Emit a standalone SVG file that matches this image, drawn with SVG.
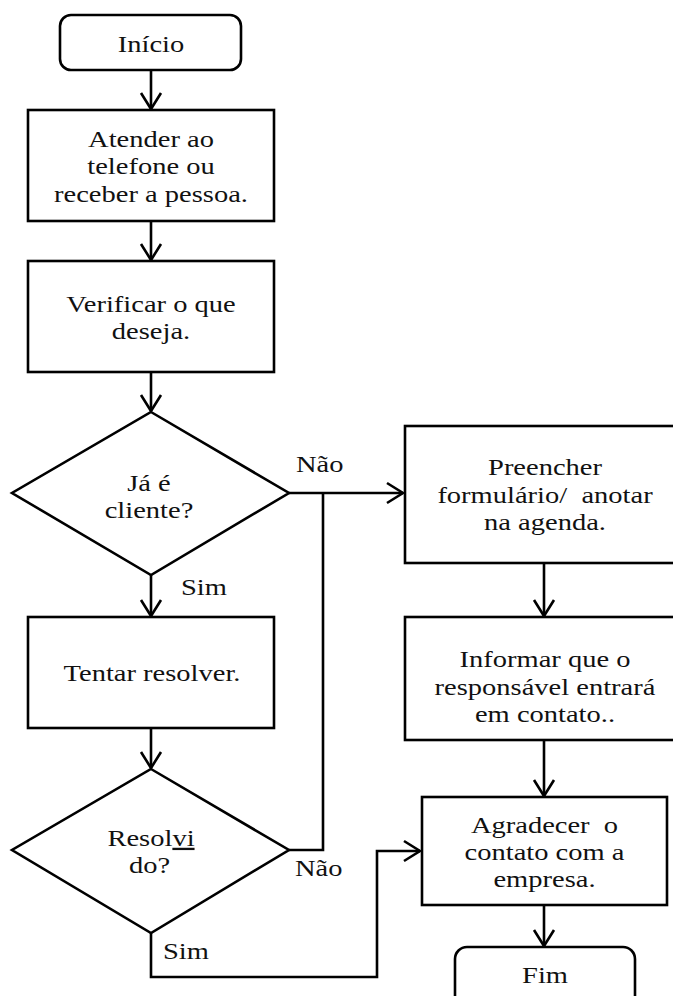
<svg xmlns="http://www.w3.org/2000/svg" width="673" height="996" viewBox="0 0 673 996">
<defs>
<style>
.shape{fill:#fff;stroke:#000;stroke-width:2.6}
.conn{fill:none;stroke:#000;stroke-width:2.6}
text{font-family:"Liberation Serif","Times New Roman",serif;font-size:23px;fill:#111}
.c{text-anchor:middle}
.pre{white-space:pre}
</style>
<marker id="arr" markerUnits="userSpaceOnUse" markerWidth="24" markerHeight="24" viewBox="-20 -12 24 24" refX="0" refY="0" orient="auto">
<path d="M-16,-10 L0,0 L-16,10" fill="none" stroke="#000" stroke-width="2.6"/>
</marker>
</defs>
<rect width="673" height="996" fill="#fff"/>

<g id="connectors">
<line class="conn" x1="151" y1="70" x2="151" y2="109" marker-end="url(#arr)"/>
<line class="conn" x1="151" y1="221" x2="151" y2="260" marker-end="url(#arr)"/>
<line class="conn" x1="151" y1="372" x2="151" y2="411" marker-end="url(#arr)"/>
<line class="conn" x1="151" y1="575" x2="151" y2="616" marker-end="url(#arr)"/>
<line class="conn" x1="151" y1="728" x2="151" y2="768" marker-end="url(#arr)"/>
<line class="conn" x1="289" y1="493" x2="403" y2="493" marker-end="url(#arr)"/>
<polyline class="conn" points="289,850 323,850 323,493"/>
<polyline class="conn" points="151,933 151,977 377,977 377,851 420,851" marker-end="url(#arr)"/>
<line class="conn" x1="544" y1="563" x2="544" y2="616" marker-end="url(#arr)"/>
<line class="conn" x1="544" y1="740" x2="544" y2="796" marker-end="url(#arr)"/>
<line class="conn" x1="544" y1="905" x2="544" y2="946" marker-end="url(#arr)"/>
<text transform="translate(296,472) scale(1.24,1)">Não</text>
<text transform="translate(181,595) scale(1.24,1)">Sim</text>
<text transform="translate(295,876) scale(1.24,1)">Não</text>
<text transform="translate(163,959) scale(1.24,1)">Sim</text>
</g>

<g id="inicio">
<rect class="shape" x="60" y="15" width="181" height="55" rx="11"/>
<text class="c" transform="translate(151,51.5) scale(1.24,1)">Início</text>
</g>

<g id="atender">
<rect class="shape" x="28" y="110" width="246" height="111"/>
<text class="c" transform="translate(151,147) scale(1.24,1)">Atender ao</text>
<text class="c" transform="translate(151,174) scale(1.24,1)">telefone ou</text>
<text class="c" transform="translate(151,202) scale(1.24,1)">receber a pessoa.</text>
</g>

<g id="verificar">
<rect class="shape" x="28" y="261" width="246" height="111"/>
<text class="c" transform="translate(151,312) scale(1.24,1)">Verificar o que</text>
<text class="c" transform="translate(151,339) scale(1.24,1)">deseja.</text>
</g>

<g id="cliente">
<polygon class="shape" points="151,412 289,493 151,575 12,493"/>
<text class="c" transform="translate(149,491) scale(1.24,1)">Já é</text>
<text class="c" transform="translate(149,518) scale(1.24,1)">cliente?</text>
</g>

<g id="tentar">
<rect class="shape" x="28" y="617" width="246" height="111"/>
<text class="c" transform="translate(152,681) scale(1.24,1)">Tentar resolver.</text>
</g>

<g id="resolvido">
<polygon class="shape" points="151,769 289,850 151,933 12,850"/>
<text class="c" transform="translate(151,846) scale(1.24,1)">Resol<tspan text-decoration="underline">vi</tspan></text>
<text class="c" transform="translate(149.5,873) scale(1.24,1)">do?</text>
</g>

<g id="preencher">
<rect class="shape" x="405" y="426" width="280" height="137"/>
<text class="c" transform="translate(545,475) scale(1.24,1)">Preencher</text>
<text class="c pre" transform="translate(545,503) scale(1.24,1)">formulário/  anotar</text>
<text class="c" transform="translate(545,530) scale(1.24,1)">na agenda.</text>
</g>

<g id="informar">
<rect class="shape" x="405" y="617" width="280" height="123"/>
<text class="c" transform="translate(545,667) scale(1.24,1)">Informar que o</text>
<text class="c" transform="translate(545,695) scale(1.24,1)">responsável entrará</text>
<text class="c" transform="translate(545,722) scale(1.24,1)">em contato..</text>
</g>

<g id="agradecer">
<rect class="shape" x="422" y="797" width="245" height="108"/>
<text class="c pre" transform="translate(544.5,833) scale(1.24,1)">Agradecer  o</text>
<text class="c" transform="translate(544.5,860) scale(1.24,1)">contato com a</text>
<text class="c" transform="translate(544.5,887) scale(1.24,1)">empresa.</text>
</g>

<g id="fim">
<rect class="shape" x="455" y="947" width="180" height="70" rx="12"/>
<text class="c" transform="translate(545,983) scale(1.24,1)">Fim</text>
</g>
</svg>
